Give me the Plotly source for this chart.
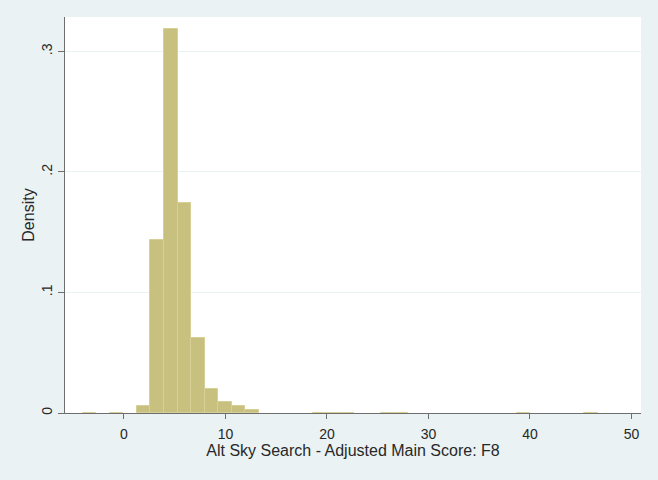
import numpy as np
import plotly.graph_objects as go

# Histogram data (Stata-style density histogram)
bin_start = -4.07
bin_width = 1.336
densities = [0.0003, None, 0.0003, None, 0.0055, 0.1436, 0.319, 0.1745, 0.0626,
             0.0199, 0.0091, 0.0055, 0.0022, None, None, None, None, 0.0003,
             0.0003, 0.0003, None, None, 0.0003, 0.0003, None, None, None, None,
             None, None, None, None, 0.0003, None, None, None, None, 0.0003]

x_ticks = [0, 10, 20, 30, 40, 50]
y_ticks = [0, 0.1, 0.2, 0.3]
y_ticktext = ["0", ".1", ".2", ".3"]

x_title = "Alt Sky Search - Adjusted Main Score: F8"
y_title = "Density"

edges = bin_start + bin_width * np.arange(len(densities) + 1)
centers = (edges[:-1] + edges[1:]) / 2

bar_color = "rgb(200,192,126)"
bg = "rgb(234,242,243)"
axis_col = "rgb(110,110,110)"
font_col = "rgb(40,40,40)"

fig = go.Figure()
fig.add_trace(go.Bar(
    x=centers, y=densities, width=bin_width,
    marker=dict(color=bar_color, line=dict(color="rgb(214,207,150)", width=1)),
    hoverinfo="skip",
))

fig.update_layout(
    width=658, height=480,
    margin=dict(l=65, r=17, t=17, b=67),
    paper_bgcolor=bg, plot_bgcolor="white",
    font=dict(family="Liberation Sans, Arial, sans-serif", size=14, color=font_col),
    showlegend=False,
    bargap=0,
)
fig.update_xaxes(
    range=[-5.81, 50.94], tickvals=x_ticks, ticks="outside", ticklen=5,
    tickcolor=axis_col, showline=True, linecolor=axis_col, linewidth=1.3,
    showgrid=False, zeroline=False, layer="below traces",
    ticklabelstandoff=3,
    title=dict(text=x_title, standoff=3, font=dict(size=16)),
    tickfont=dict(size=14),
)
fig.update_yaxes(
    range=[0, 0.3286], tickvals=y_ticks, ticktext=y_ticktext, tickangle=-90,
    ticks="outside", ticklen=6, tickcolor=axis_col, showline=True,
    linecolor=axis_col, linewidth=1.3, showgrid=True,
    gridcolor="rgb(234,242,243)", gridwidth=1, zeroline=False,
    ticklabelstandoff=0,
    title=dict(text=y_title, standoff=0, font=dict(size=16)),
    tickfont=dict(size=14),
)

fig.write_html(
    "out.html",
    config={"displayModeBar": False},
    post_script="document.body.style.margin='0';document.body.style.background='rgb(234,242,243)';",
)
